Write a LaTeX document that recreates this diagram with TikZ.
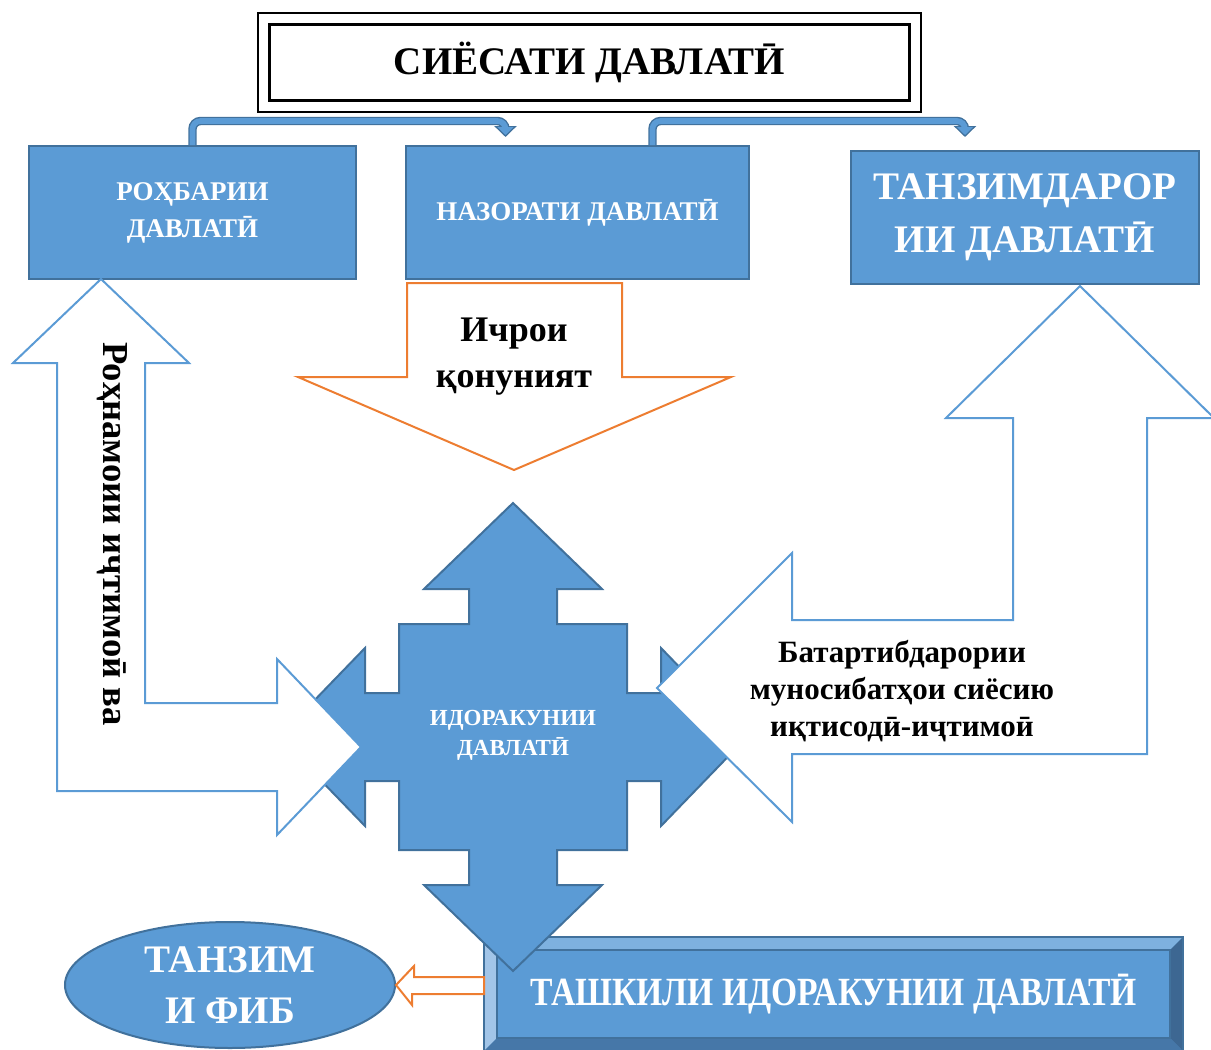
\documentclass[tikz,border=0pt]{standalone}
\usepackage{fontspec}
\setmainfont{Liberation Serif}
\newfontfamily\narrowserif[FakeStretch=0.84]{Liberation Serif}
\usepackage{xcolor}
\usetikzlibrary{calc}
\usetikzlibrary{shapes.geometric}
\usetikzlibrary{arrows.meta}
\definecolor{blueface}{HTML}{5B9BD5}
\definecolor{blueedge}{HTML}{41719C}
\definecolor{bevtop}{HTML}{7EB1DF}
\definecolor{bevleft}{HTML}{A2C5E8}
\definecolor{bevright}{HTML}{3D6792}
\definecolor{bevbottom}{HTML}{4677A8}
\definecolor{orangeedge}{HTML}{ED7D31}

\begin{document}
\begin{tikzpicture}[x=0.5pt, y=-0.5pt,
  bluebox/.style={rectangle, draw=blueedge, fill=blueface, line width=1pt, text=white, align=center, inner sep=0pt},
  hollow/.style={draw=blueface, fill=white, line width=1pt},
  orangehollow/.style={draw=orangeedge, fill=white, line width=1pt},
  elbowout/.style={draw=blueedge, line width=4.2pt, rounded corners=4pt},
  elbowin/.style={draw=blueface, line width=2.8pt, rounded corners=4pt},
  tipout/.style={draw=blueedge, line width=4.2pt, -{Triangle[length=5.5pt,width=11pt]}},
  tipin/.style={draw=blueface, line width=2.8pt, shorten >=1pt, -{Triangle[length=4pt,width=8pt]}},
  blacktext/.style={align=center, inner sep=0pt}]
\useasboundingbox (0,0) rectangle (1211,1050);

\node[draw=black, line width=1pt, minimum width=331.5pt, minimum height=49.5pt, inner sep=0pt,
  font=\fontsize{19.5pt}{22pt}\selectfont\bfseries] (siesat) at (589.5,62) {СИЁСАТИ ДАВЛАТӢ};
\draw[line width=1.5pt] ([shift={(12,13)}]siesat.north west) rectangle ([shift={(-13,-12)}]siesat.south east);

\node[bluebox, minimum width=163.5pt, minimum height=66.5pt, font=\fontsize{13.5pt}{18.5pt}\selectfont\bfseries] (rohbar) at (192.5,212.5) {РОҲБАРИИ\\ДАВЛАТӢ};
\node[bluebox, minimum width=171.5pt, minimum height=66.5pt, font=\fontsize{13.5pt}{18.5pt}\selectfont\bfseries] (nazorat) at (577.5,212.5) {НАЗОРАТИ ДАВЛАТӢ};
\node[bluebox, minimum width=174pt, minimum height=66.5pt, font=\fontsize{19.5pt}{26.5pt}\selectfont\bfseries] (tanzimdor) at (1025,217.5) {ТАНЗИМДАРОР\\ИИ ДАВЛАТӢ};

\draw[elbowout] (rohbar.north) -- ++(0,-24) -| ($(nazorat.north)+(-72,-15)$);
\draw[tipout] ($(nazorat.north)+(-72,-18)$) -- ($(nazorat.north)+(-72,-8)$);
\draw[elbowin] (rohbar.north) -- ++(0,-24) -| ($(nazorat.north)+(-72,-15)$);
\draw[tipin] ($(nazorat.north)+(-72,-18)$) -- ($(nazorat.north)+(-72,-8)$);
\draw[elbowout] ($(nazorat.north)+(75,0)$) -- ++(0,-24) -| ($(tanzimdor.north)+(-60,-20)$);
\draw[tipout] ($(tanzimdor.north)+(-60,-23)$) -- ($(tanzimdor.north)+(-60,-13)$);
\draw[elbowin] ($(nazorat.north)+(75,0)$) -- ++(0,-24) -| ($(tanzimdor.north)+(-60,-20)$);
\draw[tipin] ($(tanzimdor.north)+(-60,-23)$) -- ($(tanzimdor.north)+(-60,-13)$);

\node[bluebox, minimum width=348.5pt, minimum height=56pt] (tashkil) at (833.5,994) {};
\fill[bevtop] (tashkil.north west) -- (tashkil.north east) -- ([shift={(-13,13)}]tashkil.north east) -- ([shift={(13,13)}]tashkil.north west) -- cycle;
\fill[bevleft] (tashkil.north west) -- ([shift={(13,13)}]tashkil.north west) -- ([shift={(13,-13)}]tashkil.south west) -- (tashkil.south west) -- cycle;
\fill[bevright] (tashkil.north east) -- ([shift={(-13,13)}]tashkil.north east) -- ([shift={(-13,-13)}]tashkil.south east) -- (tashkil.south east) -- cycle;
\fill[bevbottom] (tashkil.south west) -- ([shift={(13,-13)}]tashkil.south west) -- ([shift={(-13,-13)}]tashkil.south east) -- (tashkil.south east) -- cycle;
\draw[blueedge, line width=1pt] (tashkil.north west) rectangle (tashkil.south east);
\draw[blueedge, line width=0.8pt] ([shift={(13,13)}]tashkil.north west) rectangle ([shift={(-13,-13)}]tashkil.south east);
\node[text=white, font=\narrowserif\fontsize{20pt}{22pt}\selectfont\bfseries, inner sep=0pt] at (tashkil.center) {ТАШКИЛИ ИДОРАКУНИИ ДАВЛАТӢ};

\draw[draw=blueedge, fill=blueface, line width=1pt, shift={(513,737)}]
  (0,-234) -- (89,-148) -- (44,-148) -- (44,-113) -- (114,-113) -- (114,-44) -- (148,-44) -- (148,-89)
  -- (234,0) -- (148,89) -- (148,44) -- (114,44) -- (114,113) -- (44,113) -- (44,148) -- (89,148)
  -- (0,234) -- (-89,148) -- (-44,148) -- (-44,113) -- (-114,113) -- (-114,44) -- (-148,44) -- (-148,89)
  -- (-234,0) -- (-148,-89) -- (-148,-44) -- (-114,-44) -- (-114,-113) -- (-44,-113) -- (-44,-148) -- (-89,-148) -- cycle;
\node[text=white, blacktext, font=\fontsize{11.5pt}{15pt}\selectfont\bfseries] (idora) at (513,735) {ИДОРАКУНИИ\\ДАВЛАТӢ};

\draw[hollow] (101,279) -- (189,363) -- (145,363) -- (145,703) -- (277,703) -- (277,659) -- (361,747)
  -- (277,835) -- (277,791) -- (57,791) -- (57,363) -- (13,363) -- cycle;
\node[blacktext, rotate=-90, font=\fontsize{18.3pt}{22pt}\selectfont\bfseries] (rohnamo) at (112,534) {Роҳнамоии иҷтимоӣ ва};

\draw[orangehollow] (407,283) -- (622,283) -- (622,377) -- (731,377) -- (514,470) -- (298,377) -- (407,377) -- cycle;
\node[blacktext, font=\fontsize{18pt}{23pt}\selectfont\bfseries] (ichro) at (514,357) {Ичрои\\қонуният};

\draw[hollow] (1080,286) -- (1214,418) -- (1147,418) -- (1147,754) -- (792,754) -- (792,822) -- (657,688)
  -- (792,553) -- (792,620) -- (1013,620) -- (1013,418) -- (946,418) -- cycle;
\node[blacktext, font=\fontsize{15.5pt}{18.5pt}\selectfont\bfseries] (batartib) at (902,691) {Батартибдарории\\муносибатҳои сиёсию\\иқтисодӣ-иҷтимоӣ};

\node[ellipse, draw=blueedge, fill=blueface, line width=1pt, minimum width=165pt, minimum height=63pt, inner sep=0pt,
  text=white, align=center, font=\fontsize{19.5pt}{25.5pt}\selectfont\bfseries] (fib) at (230,985) {ТАНЗИМ\\И ФИБ};

\draw[orangehollow] (fib.east) -- ++(18,-19) -- ++(0,11) -| (tashkil.west) -- ++(-72,0) -- ++(0,11) -- cycle;
\end{tikzpicture}
\end{document}
